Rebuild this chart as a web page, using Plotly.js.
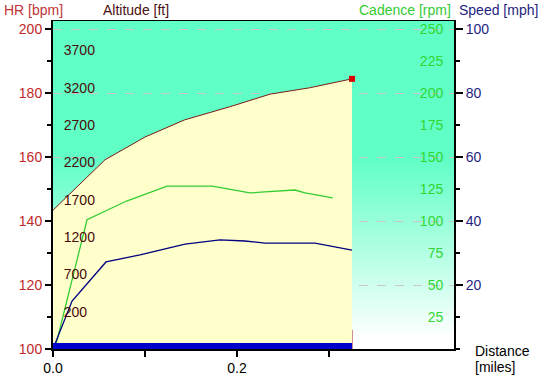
<!DOCTYPE html>
<html>
<head>
<meta charset="utf-8">
<script src="https://cdn.plot.ly/plotly-3.0.1.min.js"></script>
<style>
html,body{margin:0;padding:0;background:#fff;}
#wrap{position:relative;width:543px;height:377px;}
#bg{position:absolute;left:53px;top:21px;width:401px;height:328px;
  background:linear-gradient(to bottom,#60FFC6 0%,#60FFC6 42%,#FFFFFF 97%,#FFFFFF 100%);}
#chart{position:absolute;left:0;top:0;width:543px;height:377px;}
</style>
</head>
<body>
<div id="wrap"><div id="bg"></div><div id="chart"></div></div>
<script>
// ---- data (distance in miles) ----
const altDist = [0, 0.0565, 0.100, 0.143, 0.192, 0.236, 0.279, 0.325];
const altFt   = [1560, 2235, 2540, 2770, 2945, 3115, 3200, 3320];

const hrDist = [0, 0.325];
const hrBpm  = [114.7, 114.7];
const hrEndDist = [0.325, 0.325];
const hrEndBpm  = [100, 106];

const cadDist = [0.002, 0.037, 0.080, 0.124, 0.173, 0.214, 0.230, 0.263, 0.274, 0.304];
const cadRpm  = [0, 101, 115.6, 127.3, 127.3, 121.9, 122.7, 124.2, 121.9, 118];

const spdDist = [0, 0.0207, 0.0576, 0.0946, 0.1435, 0.1815, 0.2087, 0.2304, 0.2848, 0.325];
const spdMph  = [0, 15, 27.2, 29.4, 32.8, 34.1, 33.75, 33.1, 33.1, 30.9];

const lapDist = [0, 0.325];
const lapLevel = [0.9, 0.9];

const xTickVals = [0, 0.1, 0.2, 0.3];
const xTickText = ["0.0", "", "0.2", ""];
const hrTicks  = [100, 120, 140, 160, 180, 200];
const altTicks = [200, 700, 1200, 1700, 2200, 2700, 3200, 3700];
const cadTicks = [25, 50, 75, 100, 125, 150, 175, 200, 225, 250];
const spdTicks = [20, 40, 60, 80, 100];

// ---- ranges ----
const xRange   = [0, 0.4359];
const hrRange  = [100, 202.5];
const altRange = [-300, 4095];
const cadRange = [0, 256.25];
const spdRange = [0, 102.5];

const FONT = '"Liberation Sans", Arial, sans-serif';
const GAP = '\u00a0\u00a0';

const traces = [
  { x: altDist, y: altDist.map(() => altRange[0]), yaxis: 'y2', type: 'scatter', mode: 'lines',
    line: { width: 0, color: 'rgba(0,0,0,0)' }, hoverinfo: 'skip', showlegend: false },
  { x: altDist, y: altFt, yaxis: 'y2', type: 'scatter', mode: 'lines', fill: 'tonexty',
    fillcolor: '#FFFFCC', line: { color: '#7A1A1A', width: 1 }, showlegend: false },
  { x: hrDist, y: hrBpm, yaxis: 'y', type: 'scatter', mode: 'lines',
    line: { color: '#A01010', width: 1 }, showlegend: false },
  { x: hrEndDist, y: hrEndBpm, yaxis: 'y', type: 'scatter', mode: 'lines',
    line: { color: '#A01010', width: 1 }, showlegend: false },
  { x: cadDist, y: cadRpm, yaxis: 'y3', type: 'scatter', mode: 'lines',
    line: { color: '#33CC33', width: 1.3 }, showlegend: false },
  { x: spdDist, y: spdMph, yaxis: 'y4', type: 'scatter', mode: 'lines',
    line: { color: '#000080', width: 1.3 }, showlegend: false },
  { x: lapDist, y: lapLevel, yaxis: 'y4', type: 'scatter', mode: 'lines',
    line: { color: '#0000CC', width: 6 }, showlegend: false },
  { x: [altDist[altDist.length - 1]], y: [altFt[altFt.length - 1]], yaxis: 'y2', type: 'scatter', mode: 'markers',
    marker: { symbol: 'square', size: 6, color: '#DD0000' }, cliponaxis: false, showlegend: false }
];

const tickFont = (c) => ({ family: FONT, size: 14, color: c });

const layout = {
  width: 543, height: 377,
  margin: { l: 53, r: 89, t: 21, b: 28, pad: 0 },
  paper_bgcolor: 'rgba(0,0,0,0)', plot_bgcolor: 'rgba(0,0,0,0)',
  showlegend: false,
  font: { family: FONT, size: 14, color: '#000' },
  xaxis: {
    range: xRange, domain: [0, 1], tickmode: 'array', tickvals: xTickVals, ticktext: xTickText,
    ticks: 'outside', ticklen: 6, tickcolor: '#000', tickwidth: 1.5, tickfont: tickFont('#000'),
    ticklabeloverflow: 'allow',
    showgrid: false, zeroline: false, showline: true, linecolor: '#000', linewidth: 1.5, mirror: true
  },
  yaxis: {
    range: hrRange, tickmode: 'array', tickvals: hrTicks, ticks: 'outside', ticklen: 6,
    tickcolor: '#000', tickwidth: 1.5, tickfont: tickFont('#C02828'), ticklabeloverflow: 'allow',
    minor: { dtick: 10, tick0: 100, ticks: 'outside', ticklen: 4, tickcolor: '#000', showgrid: false },
    showgrid: true, gridcolor: '#C8C8C8', griddash: 'dash', gridwidth: 1,
    zeroline: false, showline: true, linecolor: '#000', linewidth: 2
  },
  yaxis2: {
    range: altRange, overlaying: 'y', side: 'left', anchor: 'x',
    tickmode: 'array', tickvals: altTicks, ticktext: altTicks.map(v => GAP + v),
    ticks: '', ticklabelposition: 'inside', ticklabeloverflow: 'allow',
    tickfont: tickFont('#4A0A0A'),
    showgrid: false, zeroline: false, showline: false
  },
  yaxis3: {
    range: cadRange, overlaying: 'y', side: 'right', anchor: 'x',
    tickmode: 'array', tickvals: cadTicks, ticktext: cadTicks.map(v => v + GAP),
    ticks: '', ticklabelposition: 'inside', ticklabeloverflow: 'allow',
    tickfont: tickFont('#33D633'),
    showgrid: false, zeroline: false, showline: false
  },
  yaxis4: {
    range: spdRange, overlaying: 'y', side: 'right', anchor: 'x', tickmode: 'array', tickvals: spdTicks,
    ticks: 'outside', ticklen: 7, tickcolor: '#000', tickwidth: 1.5, tickfont: tickFont('#1E1E80'),
    ticklabeloverflow: 'allow',
    minor: { dtick: 10, tick0: 0, ticks: 'outside', ticklen: 4, tickcolor: '#000', showgrid: false },
    showgrid: false, zeroline: false, showline: true, linecolor: '#000', linewidth: 2
  },
  yaxis5: {
    range: altRange, overlaying: 'y', side: 'left', anchor: 'x',
    tickmode: 'array', tickvals: altTicks, showticklabels: false,
    ticks: 'inside', ticklen: 6, tickcolor: '#000', tickwidth: 1.5,
    minor: { dtick: 250, tick0: 200, ticks: 'inside', ticklen: 4, tickcolor: '#000', showgrid: false },
    showgrid: false, zeroline: false, showline: false
  },
  yaxis6: {
    range: cadRange, overlaying: 'y', side: 'right', anchor: 'x',
    tickmode: 'array', tickvals: cadTicks, showticklabels: false,
    ticks: 'inside', ticklen: 6, tickcolor: '#000', tickwidth: 1.5,
    minor: { dtick: 12.5, tick0: 0, ticks: 'inside', ticklen: 4, tickcolor: '#000', showgrid: false },
    showgrid: false, zeroline: false, showline: false
  },
  annotations: [
    { text: 'HR [bpm]', xref: 'paper', yref: 'paper', x: (2 - 53) / 401, y: 1 + 11 / 328,
      xanchor: 'left', yanchor: 'middle', showarrow: false, font: { family: FONT, size: 14, color: '#C03434' } },
    { text: 'Altitude [ft]', xref: 'paper', yref: 'paper', x: (101 - 53) / 401, y: 1 + 11 / 328,
      xanchor: 'left', yanchor: 'middle', showarrow: false, font: { family: FONT, size: 14, color: '#4A1010' } },
    { text: 'Cadence [rpm]', xref: 'paper', yref: 'paper', x: (453 - 53) / 401, y: 1 + 11 / 328,
      xanchor: 'right', yanchor: 'middle', showarrow: false, font: { family: FONT, size: 14, color: '#33CC33' } },
    { text: 'Speed [mph]', xref: 'paper', yref: 'paper', x: (457 - 53) / 401, y: 1 + 11 / 328,
      xanchor: 'left', yanchor: 'middle', showarrow: false, font: { family: FONT, size: 14, color: '#1E1E80' } },
    { text: 'Distance', xref: 'paper', yref: 'paper', x: (474 - 53) / 401, y: (349 - 351) / 328,
      xanchor: 'left', yanchor: 'middle', align: 'left', showarrow: false, borderpad: 0,
      font: { family: FONT, size: 14, color: '#000' } },
    { text: '[miles]', xref: 'paper', yref: 'paper', x: (474 - 53) / 401, y: (349 - 367) / 328,
      xanchor: 'left', yanchor: 'middle', align: 'left', showarrow: false, borderpad: 0,
      font: { family: FONT, size: 14, color: '#000' } }
  ]
};

Plotly.newPlot('chart', traces, layout, { staticPlot: true, displayModeBar: false });
</script>
</body>
</html>
